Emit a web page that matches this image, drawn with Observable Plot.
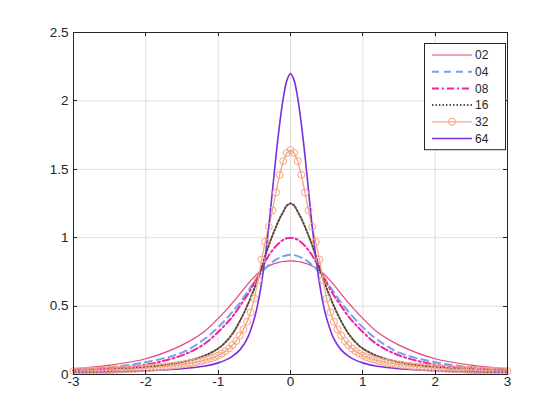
<!DOCTYPE html>
<html>
<head>
<meta charset="utf-8">
<script src="https://cdn.jsdelivr.net/npm/d3@7"></script>
<script src="https://cdn.jsdelivr.net/npm/@observablehq/plot@0.6"></script>
<style>
  html, body { margin: 0; padding: 0; background: #fff; }
  #chart { width: 560px; height: 420px; }
</style>
</head>
<body>
<div id="chart"></div>
<script>
// ---- data ----
const seriesNames = ["02", "04", "08", "16", "32", "64"];
const seriesColors = ["#e2457a", "#76a1ea", "#ef259f", "#5b4636", "#f4a582", "#7b2fdc"];
const seriesWidths = [1.2, 2, 2, 2, 1.3, 1.6];
const seriesDashes = [null, "7,5", "7,3,2,3", "1.4,2.1", null, null];

const xTicks = [-3, -2, -1, 0, 1, 2, 3];
const yTicks = [0, 0.5, 1, 1.5, 2, 2.5];
const xDomain = [-3, 3];
const yDomain = [0, 2.5];

// sample positions for the plain line series
const xLine = [-3, -2.5, -2, -1.5, -1.2, -1, -0.9, -0.8, -0.7, -0.6, -0.5, -0.45, -0.4, -0.35, -0.3, -0.25, -0.2, -0.15, -0.1, -0.05,
  0, 0.05, 0.1, 0.15, 0.2, 0.25, 0.3, 0.35, 0.4, 0.45, 0.5, 0.6, 0.7, 0.8, 0.9, 1, 1.2, 1.5, 2, 2.5, 3];

const y02 = [0.04, 0.068, 0.115, 0.215, 0.31, 0.41, 0.465, 0.525, 0.59, 0.655, 0.715, 0.74, 0.76, 0.778, 0.793, 0.805, 0.814, 0.821, 0.826, 0.829,
  0.83, 0.829, 0.826, 0.821, 0.814, 0.805, 0.793, 0.778, 0.76, 0.74, 0.715, 0.655, 0.59, 0.525, 0.465, 0.41, 0.31, 0.215, 0.115, 0.068, 0.04];

const y04 = [0.033, 0.053, 0.09, 0.16, 0.255, 0.345, 0.40, 0.46, 0.525, 0.60, 0.677, 0.712, 0.745, 0.775, 0.80, 0.822, 0.84, 0.854, 0.865, 0.872,
  0.875, 0.872, 0.865, 0.854, 0.84, 0.822, 0.80, 0.775, 0.745, 0.712, 0.677, 0.60, 0.525, 0.46, 0.40, 0.345, 0.255, 0.16, 0.09, 0.053, 0.033];

const y08 = [0.03, 0.045, 0.072, 0.14, 0.22, 0.31, 0.365, 0.425, 0.50, 0.578, 0.67, 0.722, 0.775, 0.825, 0.87, 0.908, 0.94, 0.965, 0.985, 0.996,
  1.0, 0.996, 0.985, 0.965, 0.94, 0.908, 0.87, 0.825, 0.775, 0.722, 0.67, 0.578, 0.50, 0.425, 0.365, 0.31, 0.22, 0.14, 0.072, 0.045, 0.03];

const y16 = [0.025, 0.035, 0.055, 0.09, 0.135, 0.19, 0.235, 0.30, 0.39, 0.50, 0.63, 0.70, 0.78, 0.865, 0.945, 1.015, 1.08, 1.14, 1.19, 1.235,
  1.25, 1.235, 1.19, 1.14, 1.08, 1.015, 0.945, 0.865, 0.78, 0.70, 0.63, 0.50, 0.39, 0.30, 0.235, 0.19, 0.135, 0.09, 0.055, 0.035, 0.025];

const y64 = [0.015, 0.019, 0.027, 0.042, 0.06, 0.085, 0.105, 0.135, 0.18, 0.26, 0.41, 0.52, 0.67, 0.86, 1.08, 1.34, 1.60, 1.83, 2.02, 2.15,
  2.20, 2.15, 2.02, 1.83, 1.60, 1.34, 1.08, 0.86, 0.67, 0.52, 0.41, 0.26, 0.18, 0.135, 0.105, 0.085, 0.06, 0.042, 0.027, 0.019, 0.015];

// the marked series (every sample carries a circle)
const x32 = [-3, -2.95, -2.9, -2.85, -2.8, -2.75, -2.7, -2.65, -2.6, -2.55, -2.5, -2.45, -2.4, -2.35, -2.3, -2.25, -2.2, -2.15, -2.1, -2.05,
  -2, -1.95, -1.9, -1.85, -1.8, -1.75, -1.7, -1.65, -1.6, -1.55, -1.5, -1.45, -1.4, -1.35, -1.3, -1.25, -1.2, -1.15, -1.1, -1.05,
  -1, -0.95, -0.9, -0.85, -0.8, -0.75, -0.7, -0.65, -0.6, -0.55, -0.5, -0.45, -0.4, -0.35, -0.3, -0.25, -0.2, -0.15, -0.1, -0.05,
  0, 0.05, 0.1, 0.15, 0.2, 0.25, 0.3, 0.35, 0.4, 0.45, 0.5, 0.55, 0.6, 0.65, 0.7, 0.75, 0.8, 0.85, 0.9, 0.95,
  1, 1.05, 1.1, 1.15, 1.2, 1.25, 1.3, 1.35, 1.4, 1.45, 1.5, 1.55, 1.6, 1.65, 1.7, 1.75, 1.8, 1.85, 1.9, 1.95,
  2, 2.05, 2.1, 2.15, 2.2, 2.25, 2.3, 2.35, 2.4, 2.45, 2.5, 2.55, 2.6, 2.65, 2.7, 2.75, 2.8, 2.85, 2.9, 2.95, 3];

const y32 = [0.025, 0.025, 0.026, 0.027, 0.028, 0.028, 0.029, 0.03, 0.031, 0.032, 0.033, 0.034, 0.035, 0.036, 0.037, 0.038, 0.04, 0.041, 0.043, 0.044,
  0.046, 0.048, 0.05, 0.052, 0.055, 0.057, 0.06, 0.063, 0.066, 0.069, 0.073, 0.077, 0.081, 0.085, 0.09, 0.096, 0.103, 0.11, 0.118, 0.128,
  0.139, 0.153, 0.17, 0.19, 0.215, 0.245, 0.285, 0.33, 0.385, 0.455, 0.555, 0.69, 0.84, 0.97, 1.08, 1.20, 1.33, 1.46, 1.56, 1.62,
  1.64, 1.62, 1.56, 1.46, 1.33, 1.20, 1.08, 0.97, 0.84, 0.69, 0.555, 0.455, 0.385, 0.33, 0.285, 0.245, 0.215, 0.19, 0.17, 0.153,
  0.139, 0.128, 0.118, 0.11, 0.103, 0.096, 0.09, 0.085, 0.081, 0.077, 0.073, 0.069, 0.066, 0.063, 0.06, 0.057, 0.055, 0.052, 0.05, 0.048,
  0.046, 0.044, 0.043, 0.041, 0.04, 0.038, 0.037, 0.036, 0.035, 0.034, 0.033, 0.032, 0.031, 0.03, 0.029, 0.028, 0.028, 0.027, 0.026, 0.025, 0.025];

// ---- build tables ----
const seriesX = [xLine, xLine, xLine, xLine, x32, xLine];
const seriesY = [y02, y04, y08, y16, y32, y64];
const tables = seriesNames.map((name, i) =>
  seriesX[i].map((x, j) => ({x, y: seriesY[i][j], series: name})));

const axisColor = "#262626";
const fontFamily = "'Liberation Sans', Arial, Helvetica, sans-serif";

const lineMarks = tables.map((t, i) => Plot.line(t, {
  x: "x", y: "y",
  stroke: seriesColors[i],
  strokeWidth: seriesWidths[i],
  strokeDasharray: seriesDashes[i] ?? undefined,
  curve: seriesNames[i] === "32" ? "linear" : "catmull-rom"
}));

const plot = Plot.plot({
  width: 560,
  height: 420,
  marginLeft: 73,
  marginRight: 53,
  marginTop: 32,
  marginBottom: 46,
  x: {domain: xDomain, label: null},
  y: {domain: yDomain, label: null},
  style: {fontFamily, fontSize: "13.5px", color: axisColor, background: "#fff"},
  marks: [
    Plot.gridX(xTicks, {stroke: "#dedede", strokeOpacity: 1}),
    Plot.gridY(yTicks, {stroke: "#dedede", strokeOpacity: 1}),
    ...lineMarks,
    Plot.dot(tables[4], {x: "x", y: "y", r: 3.5, stroke: seriesColors[4], strokeWidth: 1, fill: "none"}),
    Plot.frame({stroke: axisColor, strokeWidth: 1}),
    Plot.axisX(xTicks, {tickSize: 0, tickPadding: 2, tickFormat: d => String(d), fill: axisColor, fontSize: 13.5, label: null}),
    Plot.axisY(yTicks, {tickSize: 0, tickPadding: 5, tickFormat: d => String(d), fill: axisColor, fontSize: 13.5, label: null})
  ]
});

document.getElementById("chart").appendChild(plot);

// ---- inward ticks on all four sides, placed with Plot's own scales ----
const svg = d3.select(plot);
const sx = plot.scale("x"), sy = plot.scale("y");
const fx = d3.scaleLinear(sx.domain, sx.range);
const fy = d3.scaleLinear(sy.domain, sy.range);
const [X0, X1] = sx.range, [Y0, Y1] = sy.range; // Y0 bottom, Y1 top
const tickLen = 4;
const tg = svg.append("g").attr("stroke", axisColor).attr("stroke-width", 1);
xTicks.forEach(v => {
  const px = Math.round(fx(v)) + 0.5;
  tg.append("line").attr("x1", px).attr("x2", px).attr("y1", Y0).attr("y2", Y0 - tickLen);
  tg.append("line").attr("x1", px).attr("x2", px).attr("y1", Y1).attr("y2", Y1 + tickLen);
});
yTicks.forEach(v => {
  const py = Math.round(fy(v)) + 0.5;
  tg.append("line").attr("x1", X0).attr("x2", X0 + tickLen).attr("y1", py).attr("y2", py);
  tg.append("line").attr("x1", X1).attr("x2", X1 - tickLen).attr("y1", py).attr("y2", py);
});

// ---- legend box (top right, inside the axes) ----
const lg = svg.append("g").attr("font-family", fontFamily).attr("font-size", 12)
  .attr("text-anchor", "start");
const boxRight = X1 - 2, boxLeft = boxRight - 81, boxTop = Y1 + 11, rowH = 16.7;
lg.append("rect")
  .attr("x", boxLeft + 0.5).attr("y", boxTop + 0.5)
  .attr("width", boxRight - boxLeft).attr("height", rowH * seriesNames.length + 6)
  .attr("fill", "#fff").attr("stroke", axisColor).attr("stroke-width", 1);
seriesNames.forEach((name, i) => {
  const cy = boxTop + 12 + i * rowH;
  const l1 = boxLeft + 8, l2 = boxLeft + 48;
  const ln = lg.append("line")
    .attr("x1", l1).attr("x2", l2).attr("y1", cy).attr("y2", cy)
    .attr("stroke", seriesColors[i]).attr("stroke-width", seriesWidths[i]);
  if (seriesDashes[i]) ln.attr("stroke-dasharray", seriesDashes[i]);
  if (name === "32") {
    lg.append("circle").attr("cx", (l1 + l2) / 2).attr("cy", cy).attr("r", 3.5)
      .attr("fill", "none").attr("stroke", seriesColors[i]).attr("stroke-width", 1);
  }
  lg.append("text").attr("x", l2 + 3).attr("y", cy).attr("dy", "0.35em")
    .attr("text-anchor", "start")
    .attr("fill", axisColor).text(name);
});
</script>
</body>
</html>
